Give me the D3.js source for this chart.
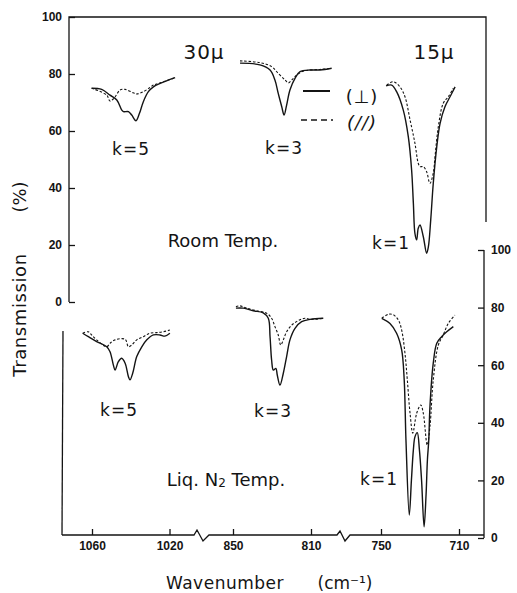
<!DOCTYPE html>
<html><head><meta charset="utf-8">
<script src="https://cdn.jsdelivr.net/npm/d3@7"></script>
<style>
body{margin:0;background:#fff;}
svg{display:block;font-family:"DejaVu Sans",sans-serif;}
</style></head>
<body><svg id="c" width="517" height="593"></svg>
<script>
// ---- data: [wavenumber (cm-1), transmission (%)] ----
const roomK5Perp = [[1060.2,75.0],[1055,74.6],[1050.7,72.6],[1047.2,70.9],[1044.7,67.4],[1043.8,66.8],[1041.2,66.8],[1039.5,65.6],[1037.3,63.6],[1035.5,66.2],[1033.5,70.3],[1030.9,73.8],[1028.3,75.5],[1024.8,76.7],[1017.1,78.7]];
const roomK5Para = [[1060.2,75],[1052.4,72.6],[1050.7,70.5],[1048.1,72],[1045.5,74.4],[1042.9,74.6],[1038.7,73.4],[1036.9,73],[1033.5,73.8],[1030,75.3],[1028.3,76.1],[1024.8,76.9],[1017.1,78.7]];
const roomK3Perp = [[846.4,83.8],[836.2,83.2],[831,81.4],[828.5,77.9],[826.8,73.2],[825,68.5],[823.8,65.6],[822.5,69.1],[820.8,74.4],[818.2,78.5],[815.6,80.8],[810.5,81.4],[805.4,81.4],[799.4,82]];
const roomK3Para = [[846.4,84.6],[836.2,84],[830.2,82.6],[826.8,80.2],[823.3,77.9],[821.6,76.9],[819.9,77.9],[817.3,79.6],[814,81],[805.4,81.6],[799.4,82]];
const roomK1Perp = [[747.4,75.8],[744.5,76.1],[742,73.8],[738.6,67.4],[736,58],[734.3,46.3],[733.4,34.6],[732.6,24.1],[731.7,21.8],[730.9,25.9],[730,27],[728.3,22.9],[726.6,17.1],[725.7,19.4],[724.5,28.8],[723.2,41.6],[721.4,54.5],[719.7,62.7],[717.2,68.5],[714.6,72],[712,75.5]];
const roomK1Para = [[747.1,76.1],[743.7,77.3],[740.3,75.5],[737.7,72],[735.1,63.9],[732.6,55.7],[730.9,48.7],[730,47.5],[728.3,47.5],[726.6,45.7],[724.9,41.6],[723.2,45.2],[722.3,51],[720.6,61.5],[718.1,69.7],[715.5,72],[712.9,75]];
const liqK5Perp = [[1064.8,71.1],[1061.9,69.9],[1057.6,68.2],[1052.4,66.4],[1050.7,64.7],[1049,60.1],[1048.1,58.3],[1046.4,61.2],[1044.7,62.4],[1042.9,60.7],[1041.2,56],[1040.4,54.9],[1039,57.2],[1036.9,63],[1034.3,66.4],[1031.7,68.8],[1028.3,70.5],[1024.9,70.5],[1022.4,70.1],[1019.8,71.1]];
const liqK5Para = [[1064.8,71.1],[1061.9,71.6],[1060.2,70.5],[1057.6,68.8],[1052.4,66.4],[1050.7,67.6],[1048.1,68.8],[1042.9,69],[1041.2,66.4],[1039.5,67],[1036.9,68.8],[1033.5,69.9],[1030.1,71.1],[1026.6,71.3],[1023.2,71.6],[1019.8,72.2]];
const liqK3Perp = [[848.5,79.8],[844.7,79.8],[839.6,78.9],[834.5,78.2],[831.9,76.3],[831,69.9],[830.2,61.8],[829.3,58.3],[828,58.9],[827.3,56.6],[825.9,53.1],[824.2,57.2],[822.5,63],[820.8,68.8],[818.2,72.8],[814.8,75.1],[810.5,75.9],[803.7,76.3]];
const liqK3Para = [[848.5,80.3],[846.4,80.6],[843,79.8],[837.9,78.9],[832.7,78],[830.2,76.3],[828.5,73.4],[826.8,70.5],[825.5,67],[824.2,68.8],[822.5,71.6],[819.9,73.9],[816.5,75.5],[813.1,76.3],[810.5,75.9],[803.7,76.3]];
const liqK1Perp = [[749.6,76.3],[745.4,74.5],[742,71.1],[739.4,65.3],[738.1,54.9],[737.2,34],[735.5,8],[734.4,20.1],[733.4,30.6],[732.6,35.1],[731.4,36.6],[730.3,30.6],[729.2,20.1],[727.9,3.9],[726.9,14.9],[726.2,27.1],[725.5,34],[724.9,45.6],[723.2,60.7],[721.4,67.6],[718.9,69.9],[716.3,71.6],[712.9,73.4]];
const liqK1Para = [[749.6,76.3],[746.2,77.7],[743.7,77.5],[741.1,75.7],[739.4,72.2],[737.7,64.1],[736.5,54.9],[735.1,43.3],[733.7,36.4],[731.7,43.3],[729.6,46.2],[728.3,43.3],[726.3,32.3],[724.9,38.7],[723.2,54.9],[720.6,67],[718.1,70.5],[715.5,74.5],[712.1,77.4]];

const xTicks1 = [1060, 1020];
const xTicks2 = [850, 810];
const xTicks3 = [750, 710];
const yTicks = [0, 20, 40, 60, 80, 100];

// ---- scales ----
const seg1 = d3.scaleLinear().domain([1060, 1020]).range([92, 169.5]);
const seg2 = d3.scaleLinear().domain([850, 810]).range([233, 311]);
const seg3 = d3.scaleLinear().domain([750, 710]).range([381, 459]);
function xs(w){ return w > 950 ? seg1(w) : (w > 780 ? seg2(w) : seg3(w)); }
const yTop = d3.scaleLinear().domain([0, 100]).range([302, 17]);
const yBot = d3.scaleLinear().domain([0, 100]).range([538, 250]);

const svg = d3.select("#c");
const ink = "#141414";

// ---- top panel frame ----
svg.append("path").attr("fill","none").attr("stroke",ink).attr("stroke-width",1.3)
  .attr("d", `M69,${yTop(0)} V${yTop(100)} H486 V222`);
const gL = svg.append("g").attr("transform","translate(69,0)")
  .call(d3.axisLeft(yTop).tickValues(yTicks).tickSize(-6).tickPadding(7));
gL.select(".domain").remove();
gL.selectAll("line").attr("stroke",ink).attr("stroke-width",1.3);
gL.selectAll("text").attr("font-size",12).attr("fill",ink).attr("font-weight","bold");

// ---- bottom panel frame ----
svg.append("line").attr("x1",63).attr("y1",331).attr("x2",62).attr("y2",535)
  .attr("stroke",ink).attr("stroke-width",1.3);
const gR = svg.append("g").attr("transform","translate(484,0)")
  .call(d3.axisRight(yBot).tickValues(yTicks).tickSize(-6).tickPadding(7));
gR.select(".domain").attr("stroke",ink).attr("stroke-width",1.3).attr("d",`M0,${yBot(100)}V${yBot(0)}`);
gR.selectAll("line").attr("stroke",ink).attr("stroke-width",1.3);
gR.selectAll("text").attr("font-size",12).attr("fill",ink).attr("font-weight","bold");

// x axis with breaks
const axY = 535;
const b1 = 203, b2 = 345;
svg.append("path").attr("fill","none").attr("stroke",ink).attr("stroke-width",1.3)
  .attr("d", `M62,${axY} H${b1-9} L${b1-6},${axY-5} L${b1},${axY+6} L${b1+6},${axY} H${b2-8} L${b2-5},${axY-4} L${b2},${axY+6} L${b2+5},${axY} H484`);
[[seg1,xTicks1],[seg2,xTicks2],[seg3,xTicks3]].forEach(([s,t])=>{
  const g = svg.append("g").attr("transform",`translate(0,${axY})`)
    .call(d3.axisBottom(s).tickValues(t).tickSize(-6).tickPadding(6).tickFormat(d3.format("d")));
  g.select(".domain").remove();
  g.selectAll("line").attr("stroke",ink).attr("stroke-width",1.3);
  g.selectAll("text").attr("font-size",12).attr("fill",ink).attr("font-weight","bold");
});

// ---- spectra ----
function draw(data, y, dashed){
  const line = d3.line().x(d=>xs(d[0])).y(d=>y(d[1])).curve(d3.curveCatmullRom.alpha(0.5));
  svg.append("path").datum(data).attr("d",line).attr("fill","none")
    .attr("stroke",ink).attr("stroke-width",dashed?1.1:1.4)
    .attr("stroke-dasharray",dashed?"2.5,1.8":null).attr("stroke-linejoin","round");
}
draw(roomK5Para,yTop,true); draw(roomK5Perp,yTop,false);
draw(roomK3Para,yTop,true); draw(roomK3Perp,yTop,false);
draw(roomK1Para,yTop,true); draw(roomK1Perp,yTop,false);
draw(liqK5Para,yBot,true); draw(liqK5Perp,yBot,false);
draw(liqK3Para,yBot,true); draw(liqK3Perp,yBot,false);
draw(liqK1Para,yBot,true); draw(liqK1Perp,yBot,false);

// ---- legend ----
svg.append("line").attr("x1",303).attr("x2",330).attr("y1",91).attr("y2",91).attr("stroke",ink).attr("stroke-width",2);
svg.append("line").attr("x1",301).attr("x2",333).attr("y1",120).attr("y2",120).attr("stroke",ink).attr("stroke-width",1.6).attr("stroke-dasharray","6,4");
function txt(x,y,s,size,anchor){
  return svg.append("text").attr("x",x).attr("y",y).attr("font-size",size).attr("fill",ink)
    .attr("text-anchor",anchor||"middle").attr("dominant-baseline","central").text(s);
}
txt(362,96,"(⊥)",18).attr("letter-spacing",1);
txt(362,122,"(//)",18).attr("font-style","italic").attr("letter-spacing",1);

// ---- annotations ----
txt(204,52,"30μ",20).attr("letter-spacing",1);
txt(434,52,"15μ",20).attr("letter-spacing",1);
txt(131,149,"k=5",17).attr("letter-spacing",1);
txt(284,148,"k=3",17).attr("letter-spacing",1);
txt(391,243,"k=1",17).attr("letter-spacing",1);
txt(223,240,"Room Temp.",18);
txt(119,410,"k=5",17).attr("letter-spacing",1);
txt(273,411,"k=3",17).attr("letter-spacing",1);
txt(379,479,"k=1",17).attr("letter-spacing",1);
const liq = txt(226,479,"",18);
liq.append("tspan").text("Liq. N");
liq.append("tspan").attr("font-size",12).attr("dy",4).text("2");
liq.append("tspan").attr("dy",-4).text(" Temp.");

// axis titles
txt(225,583,"Wavenumber",17).attr("letter-spacing",0.5);
txt(345,583,"(cm⁻¹)",17);
svg.append("text").attr("transform","translate(19,315) rotate(-90)").attr("text-anchor","middle")
  .attr("dominant-baseline","central").attr("font-size",18).attr("fill",ink).attr("letter-spacing",0.6).text("Transmission");
svg.append("text").attr("transform","translate(19,197) rotate(-90)").attr("text-anchor","middle")
  .attr("dominant-baseline","central").attr("font-size",18).attr("fill",ink).text("(%)");
</script></body></html>
